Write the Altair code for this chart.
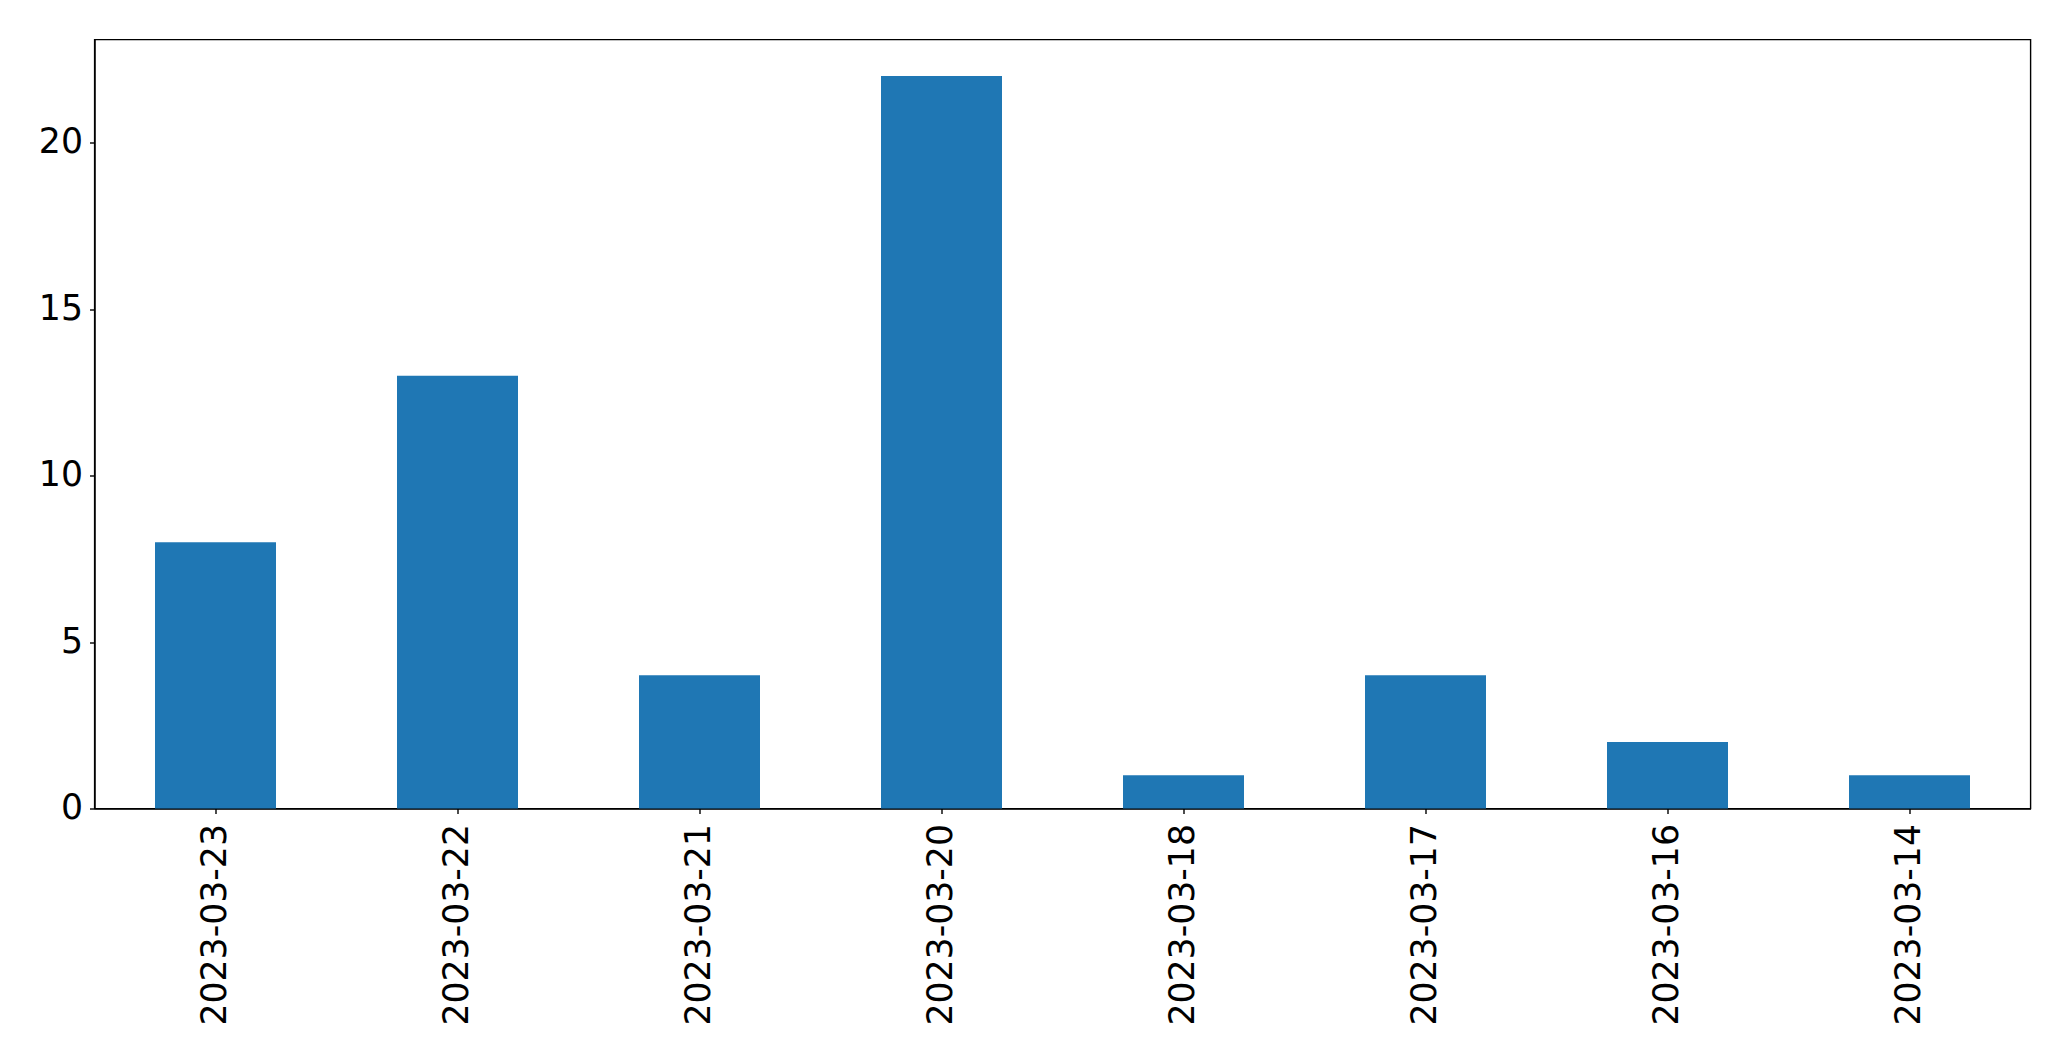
import altair as alt
import pandas as pd

dates = ["2023-03-23", "2023-03-22", "2023-03-21", "2023-03-20",
         "2023-03-18", "2023-03-17", "2023-03-16", "2023-03-14"]
counts = [8, 13, 4, 22, 1, 4, 2, 1]

df = pd.DataFrame({"date": dates, "count": counts})

chart = alt.Chart(df).mark_bar(color="#1f77b4").encode(
    x=alt.X("date:N", sort=None, title=None,
            scale=alt.Scale(paddingInner=0.5, paddingOuter=0.25),
            axis=alt.Axis(labelAngle=-90, labelAlign="right", labelBaseline="middle",
                          labelFontSize=34.7, labelFont="DejaVu Sans", labelColor="black",
                          labelLimit=0, labelOverlap=False,
                          labelPadding=10, tickSize=5, tickWidth=1.4, tickColor="black",
                          domainColor="black", domainWidth=1.4, grid=False)),
    y=alt.Y("count:Q", title=None,
            scale=alt.Scale(domain=[0, 23.1], nice=False, zero=True),
            axis=alt.Axis(values=[0, 5, 10, 15, 20], labelFontSize=34.7, labelFont="DejaVu Sans",
                          labelColor="black", labelPadding=7, tickSize=5, tickWidth=1.4,
                          tickColor="black", domainColor="black", domainWidth=1.4, grid=False)),
).properties(
    width=1936, height=769,
    autosize=alt.AutoSizeParams(type="none"),
    padding={"left": 86.5, "top": 31.5, "right": 20, "bottom": 240},
).configure_view(stroke="black", strokeWidth=1.4)

chart.save("out.html", embed_options={"renderer": "svg", "actions": False})
